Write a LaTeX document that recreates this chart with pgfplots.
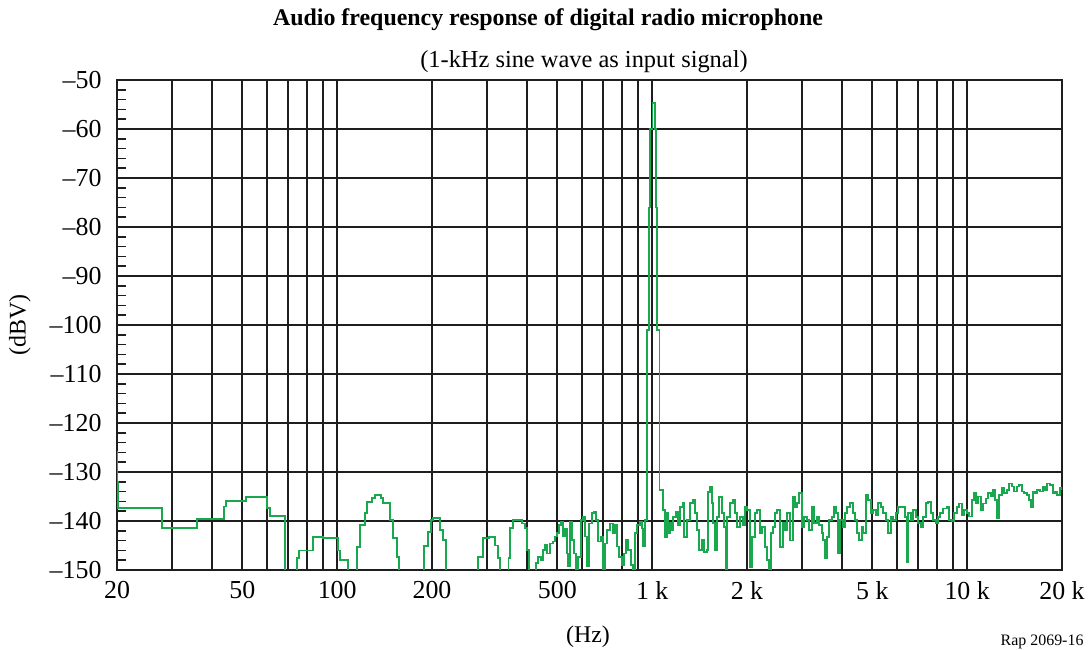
\documentclass[border=0pt]{standalone}
\usepackage{fontspec}
\setmainfont{Liberation Serif}
\usepackage{pgfplots}
\usepackage{pgfplotstable}
\pgfplotsset{compat=1.18}
\definecolor{trace}{RGB}{25,168,78}
\definecolor{gridc}{RGB}{30,30,30}
\pgfplotstableread{
f db
20 -125.9
20.05 -132.0
20.15 -137.3
27.8 -141.4
35.9 -139.6
43.7 -137.0
44.4 -135.9
51.4 -135.1
59.9 -137.3
61.2 -139.0
68.3 -152
74.6 -147.6
75.7 -146.0
83.8 -143.3
90.2 -143.5
100.6 -146.0
102.1 -148.0
108.2 -152
115.6 -145.3
118.1 -140.8
122.6 -138.4
124.4 -136.1
129 -135.3
131.8 -134.7
137.8 -135.3
139.8 -136.3
147.1 -139.8
150.4 -143.5
154.9 -147.3
157.1 -152
188.6 -145.1
194.2 -142.2
198.5 -139.8
201.5 -139.4
212 -141.8
216.7 -143.9
221.5 -152
280 -147.3
290 -143.5
303 -143.3
317 -145.0
324 -147.6
328.8 -152
350 -147.6
354 -141.4
361.6 -139.8
386 -140.5
394.6 -141.4
400.6 -145.9
406.4 -152
428 -148.6
434 -147.3
443.6 -148.0
450.1 -145.9
456.8 -144.9
463.5 -146.6
473.8 -144.6
484.3 -144.2
491.4 -143.2
498.6 -142.5
506 -140.8
513.4 -140.1
521 -143.2
528.7 -141.5
536.5 -146.6
540.4 -149.3
548.3 -140.1
556.4 -143.9
564.6 -146.6
572.9 -152
581.3 -147.3
594.2 -139.8
603 -139.1
611.9 -143.2
620.9 -149.3
630 -140.5
644 -138.4
653.5 -138.1
663.1 -139.8
672.9 -144.2
687.8 -143.2
697.9 -152
708.2 -144.6
718.6 -141.8
734.6 -140.5
750.9 -142.5
761.9 -140.8
773.1 -145.2
784.5 -147.3
801.9 -149.0
813.8 -146.6
825.7 -143.9
837.9 -145.9
856.4 -149.0
869.1 -152
881.9 -142.5
894.8 -140.8
914.7 -140.1
928.1 -141.5
935 -145.2
948.7 -139.8
963 -101
977 -76
984 -60
1002 -54.7
1021 -60
1028 -76
1036 -101
1053 -133.7
1084 -137.8
1100 -143.3
1116 -138.4
1124 -142.4
1141 -140.4
1157 -141.8
1166 -139.2
1192 -138.2
1209 -140.8
1227 -137.1
1254 -136.3
1264 -143.3
1292 -139.8
1320 -136.3
1350 -135.7
1369 -138.4
1389 -141.8
1410 -145.9
1441 -143.9
1462 -146.3
1495 -145.9
1506 -134.1
1528 -133.1
1551 -136.3
1562 -140.4
1585 -145.9
1608 -139.2
1632 -135.1
1668 -138.4
1693 -141.2
1718 -152
1730 -139.2
1769 -136.3
1808 -135.7
1834 -138.4
1861 -141.2
1903 -139.2
1945 -140.8
1974 -137.1
2003 -137.8
2047 -149.4
2077 -143.3
2123 -138.4
2154 -137.8
2202 -142.4
2235 -141.2
2284 -145.3
2318 -148.0
2352 -152
2387 -142.4
2422 -141.2
2457 -138.4
2494 -137.8
2549 -145.3
2605 -140.4
2644 -141.8
2683 -138.4
2742 -144.0
2803 -135.1
2844 -137.1
2886 -136.3
2929 -134.3
2994 -141.2
3038 -139.2
3105 -139.8
3151 -141.8
3221 -137.1
3268 -140.4
3341 -139.2
3390 -140.8
3465 -142.4
3490 -143.9
3542 -147.6
3594 -143.3
3647 -139.8
3728 -139.2
3782 -137.1
3838 -138.4
3895 -146.5
3952 -139.8
4040 -141.2
4100 -138.4
4160 -137.1
4252 -136.3
4347 -138.4
4411 -139.8
4475 -142.4
4541 -143.9
4642 -141.2
4676 -142.4
4780 -134.7
4850 -135.7
4958 -138.4
5031 -137.8
5142 -138.8
5218 -136.3
5334 -137.1
5412 -138.4
5532 -139.8
5614 -142.4
5738 -139.2
5823 -139.8
5952 -138.4
6039 -137.1
6173 -137.1
6264 -137.1
6357 -139.2
6450 -148.4
6497 -138.4
6641 -139.8
6739 -137.8
6889 -139.2
6990 -140.4
7145 -141.2
7250 -139.2
7411 -136.3
7520 -136.1
7686 -138.4
7799 -139.8
7973 -140.4
8090 -139.2
8209 -138.4
8392 -137.4
8640 -137.1
8767 -139.8
8962 -140.1
9094 -138.4
9296 -137.1
9432 -136.4
9641 -138.8
9783 -137.8
10000 -138.4
10147 -139.1
10372 -135.7
10525 -134.3
10680 -136.4
10837 -135.0
11078 -137.8
11240 -136.4
11489 -135.4
11659 -134.3
11918 -135.0
12093 -133.7
12271 -135.7
12451 -139.5
12635 -134.7
12915 -133.3
13105 -134.3
13396 -133.7
13593 -132.3
13895 -133.0
14100 -134.0
14412 -133.0
14625 -132.7
14949 -134.0
15169 -134.3
15505 -134.7
15733 -135.7
15965 -137.1
16200 -134.0
16439 -134.3
16681 -133.7
17050 -134.0
17428 -133.0
17685 -133.7
17945 -132.3
18343 -132.7
18749 -134.3
19027 -134.0
19307 -134.7
19735 -133.3
20000 -133.7
}\spectrum
\begin{document}
\begin{tikzpicture}
\useasboundingbox (-117bp,-80bp) rectangle (973bp,570bp);
\begin{axis}[
  at={(0,0)}, anchor=south west,
  scale only axis, width=945bp, height=490bp,
  xmode=log, xmin=20, xmax=20000, ymin=-150, ymax=-50,
  xtick={20,50,100,200,500,1000,2000,5000,10000,20000},
  xticklabels={20,50,100,200,500,1 k,2 k,5 k,10 k,20 k},
  minor xtick={30,40,60,70,80,90,300,400,600,700,800,900,3000,4000,6000,7000,8000,9000},
  ytick={-150,-140,...,-50},
  yticklabels={–150,–140,–130,–120,–110,–100,–90,–80,–70,–60,–50},
  minor y tick num=4,
  xmajorgrids, xminorgrids, ymajorgrids,
  grid style={gridc, line width=2bp},
  minor grid style={gridc, line width=2bp},
  axis line style={gridc, line width=2bp},
  tick align=inside, ytick pos=left, xtick pos=bottom,
  major tick length=0pt, minor tick length=9bp,
  minor tick style={gridc, line width=1.6bp},
  major tick style={gridc},
  x tick label style={font=\fontsize{26}{28}\selectfont, yshift=-8bp},
  y tick label style={font=\fontsize{26}{28}\selectfont, xshift=-12bp},
  clip=true,
]
\addplot[const plot, trace, line width=1.5bp] table[x=f, y=db] {\spectrum};
\end{axis}
\node[font=\bfseries\fontsize{24}{26}\selectfont] at (431bp,550bp) {Audio frequency response of digital radio microphone};
\node[font=\fontsize{24.5}{26}\selectfont] at (467bp,508bp) {(1-kHz sine wave as input signal)};
\node[font=\fontsize{24}{26}\selectfont, rotate=90] at (-97bp,245bp) {(dBV)};
\node[font=\fontsize{24}{26}\selectfont] at (471bp,-67bp) {(Hz)};
\node[font=\fontsize{16}{18}\selectfont, anchor=east] at (970bp,-72bp) {Rap 2069-16};
\end{tikzpicture}
\end{document}
